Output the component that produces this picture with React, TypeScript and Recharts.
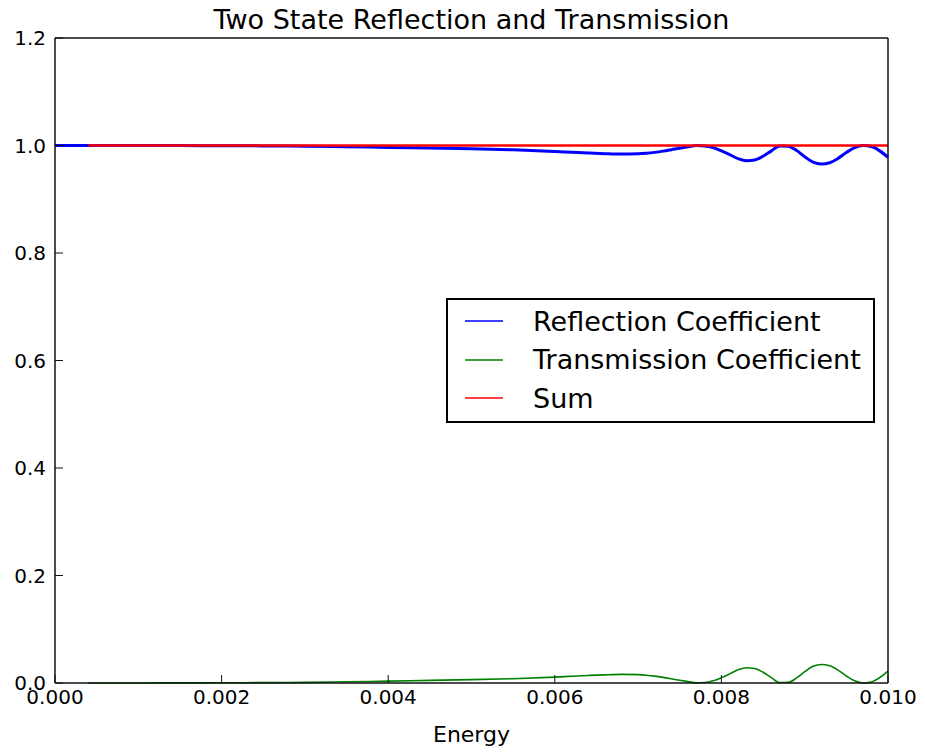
import React from 'react'
import { LineChart, Line, XAxis, YAxis, Legend } from 'recharts'

// energy grid (coarser where the curves are flat, finer where they oscillate)
const ENERGY = [
  0, 0.0002, 0.0004, 0.001, 0.0015, 0.002, 0.0025, 0.003, 0.0035, 0.004, 0.0045, 0.005, 0.0055,
  0.006, 0.0062, 0.0064, 0.0066, 0.0068, 0.007, 0.0071, 0.0072, 0.0073, 0.0074, 0.0075, 0.0076,
  0.0077, 0.0078, 0.0079, 0.008, 0.0081, 0.0082, 0.0083, 0.0084, 0.0085, 0.0086, 0.0087, 0.0088,
  0.0089, 0.009, 0.0091, 0.0092, 0.0093, 0.0094, 0.0095, 0.0096, 0.0097, 0.0098, 0.0099, 0.01,
]

const REFLECTION = [
  1.0, 1.0, 1.0, 0.9999, 0.9998, 0.9996, 0.9993, 0.9988, 0.9978, 0.9965, 0.9952, 0.9938, 0.992,
  0.989, 0.9875, 0.986, 0.9848, 0.984, 0.9845, 0.9855, 0.9872, 0.9895, 0.9922, 0.995, 0.9975,
  0.9998, 0.9992, 0.996, 0.99, 0.983, 0.9755, 0.9715, 0.973, 0.98, 0.99, 0.9992, 0.9988,
  0.991, 0.979, 0.969, 0.9655, 0.968, 0.976, 0.987, 0.996, 1.0, 0.998, 0.99, 0.978,
]

const TRANSMISSION = [
  null, null, 0.0, 0.0001, 0.0002, 0.0004, 0.0007, 0.0012, 0.0022, 0.0035, 0.0048, 0.0062, 0.008,
  0.011, 0.0125, 0.014, 0.0152, 0.016, 0.0155, 0.0145, 0.0128, 0.0105, 0.0078, 0.005, 0.0025,
  0.0002, 0.0008, 0.004, 0.01, 0.017, 0.0245, 0.0285, 0.027, 0.02, 0.01, 0.0008, 0.0012,
  0.009, 0.021, 0.031, 0.0345, 0.032, 0.024, 0.013, 0.004, 0.0, 0.002, 0.01, 0.022,
]

const SUM = [
  null, null, 1.0, 1.0, 1.0, 1.0, 1.0, 1.0, 1.0, 1.0, 1.0, 1.0, 1.0,
  1.0, 1.0, 1.0, 1.0, 1.0, 1.0, 1.0, 1.0, 1.0, 1.0, 1.0, 1.0,
  1.0, 1.0, 1.0, 1.0, 1.0, 1.0, 1.0, 1.0, 1.0, 1.0, 1.0, 1.0,
  1.0, 1.0, 1.0, 1.0, 1.0, 1.0, 1.0, 1.0, 1.0, 1.0, 1.0, 1.0,
]

const SERIES_NAMES = ['Reflection Coefficient', 'Transmission Coefficient', 'Sum']
const X_TICKS = [0, 0.002, 0.004, 0.006, 0.008, 0.01]
const Y_TICKS = [0, 0.2, 0.4, 0.6, 0.8, 1.0, 1.2]

const data = ENERGY.map((energy, i) => ({
  energy,
  reflection: REFLECTION[i],
  transmission: TRANSMISSION[i],
  sum: SUM[i],
}))

const FONT = '"DejaVu Sans", sans-serif'
const AXIS_LINE = { stroke: '#111', strokeWidth: 1.5 }
const TICK_LINE = { stroke: '#111', strokeWidth: 1 }
const TICK_STYLE = { fill: '#000', fontSize: 20, fontFamily: FONT }

function LegendBox({ payload }: { payload?: any[] }) {
  // keep the plotting order rather than the alphabetical one
  const items = [...(payload || [])].sort(
    (a, b) => SERIES_NAMES.indexOf(a.value) - SERIES_NAMES.indexOf(b.value),
  )
  return (
    <div
      style={{
        width: 429,
        height: 125,
        boxSizing: 'border-box',
        border: '2px solid #000',
        background: '#fff',
        padding: '2px 0 0 17px',
        fontFamily: FONT,
        fontSize: 27,
        color: '#000',
      }}
    >
      {items.map((entry) => (
        <div key={entry.value} style={{ display: 'flex', alignItems: 'center', height: 38.5 }}>
          <svg width={38} height={4} style={{ marginRight: 30 }}>
            <line x1={0} y1={2} x2={38} y2={2} stroke={entry.color} strokeWidth={1.5} />
          </svg>
          <span style={{ lineHeight: 1 }}>{entry.value}</span>
        </div>
      ))}
    </div>
  )
}

export default function App() {
  return (
    <div style={{ position: 'absolute', left: 0, top: 0, width: 925, height: 754, background: '#fff' }}>
      <div
        style={{
          position: 'absolute',
          left: 55,
          width: 833,
          top: 4,
          textAlign: 'center',
          fontFamily: FONT,
          fontSize: 27,
          color: '#000',
        }}
      >
        Two State Reflection and Transmission
      </div>
      <LineChart
        width={925}
        height={754}
        data={data}
        margin={{ top: 37, right: 36, bottom: 0, left: 0 }}
        style={{ fontFamily: FONT }}
      >
        <XAxis
          dataKey="energy"
          type="number"
          domain={[0, 0.01]}
          ticks={X_TICKS}
          tickFormatter={(v: number) => v.toFixed(3)}
          height={71}
          axisLine={AXIS_LINE}
          tickLine={TICK_LINE}
          tickSize={-8}
          tickMargin={15}
          tick={TICK_STYLE}
          label={{ value: 'Energy', position: 'insideBottom', offset: 12, fill: '#000', fontSize: 22, fontFamily: FONT }}
        />
        {/* frame: top and right spines with inward ticks */}
        <XAxis
          xAxisId="top"
          orientation="top"
          dataKey="energy"
          type="number"
          domain={[0, 0.01]}
          ticks={X_TICKS}
          height={1}
          axisLine={AXIS_LINE}
          tickLine={TICK_LINE}
          tickSize={-8}
          tick={false}
        />
        <YAxis
          type="number"
          domain={[0, 1.2]}
          ticks={Y_TICKS}
          tickFormatter={(v: number) => v.toFixed(1)}
          width={55}
          axisLine={AXIS_LINE}
          tickLine={TICK_LINE}
          tickSize={-8}
          tickMargin={17}
          tick={TICK_STYLE}
        />
        <YAxis
          yAxisId="right"
          orientation="right"
          type="number"
          domain={[0, 1.2]}
          ticks={Y_TICKS}
          width={1}
          axisLine={AXIS_LINE}
          tickLine={TICK_LINE}
          tickSize={-8}
          tick={false}
        />
        <Legend
          layout="vertical"
          align="center"
          verticalAlign="middle"
          content={<LegendBox />}
          wrapperStyle={{ left: 446, top: 298, width: 429 }}
        />
        <Line
          name="Reflection Coefficient"
          dataKey="reflection"
          type="monotone"
          stroke="#0000ff"
          strokeWidth={3}
          dot={false}
          isAnimationActive={false}
        />
        <Line
          name="Transmission Coefficient"
          dataKey="transmission"
          type="monotone"
          stroke="#008000"
          strokeWidth={1.6}
          dot={false}
          isAnimationActive={false}
        />
        <Line
          name="Sum"
          dataKey="sum"
          xAxisId="top"
          yAxisId="right"
          type="monotone"
          stroke="#ff0000"
          strokeWidth={2.5}
          dot={false}
          isAnimationActive={false}
        />
      </LineChart>
    </div>
  )
}
